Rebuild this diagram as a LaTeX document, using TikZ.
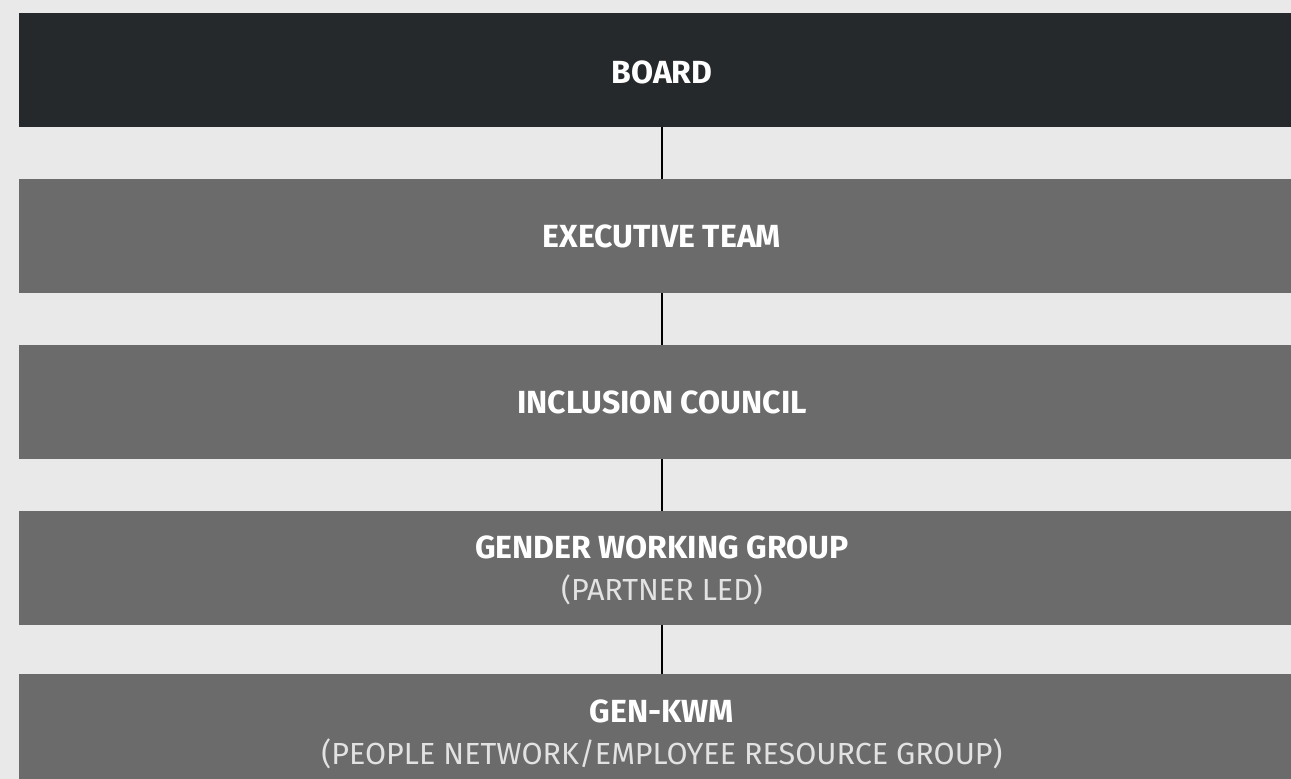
\documentclass[tikz,border=0pt]{standalone}
\usepackage{fontspec}
\setmainfont{Fira Sans}
\definecolor{pagebg}{HTML}{E9E9E9}
\definecolor{boarddark}{HTML}{26292C}
\definecolor{tiergray}{HTML}{6B6B6C}
\definecolor{softwhite}{HTML}{E2E2E2}
\begin{document}
\begin{tikzpicture}[x=1pt,y=-1pt,
  tierbox/.style={fill=tiergray, draw=none},
  headbox/.style={fill=boarddark, draw=none},
  title/.style={anchor=base, text=white, inner sep=0pt,
    font=\fontsize{32}{38}\selectfont\bfseries},
  subtitle/.style={anchor=base, text=softwhite, inner sep=0pt,
    font=\fontsize{30.5}{36}\selectfont},
  link/.style={draw=black, line width=2pt}]
  \useasboundingbox (0,0) rectangle (1291,779);
  \fill[pagebg] (0,0) rectangle (1291,779);
  % tier rectangles
  \path[headbox] (19,13) rectangle (1291,127);
  \path[tierbox] (19,179) rectangle (1291,293);
  \path[tierbox] (19,345) rectangle (1291,459);
  \path[tierbox] (19,511) rectangle (1291,625);
  \path[tierbox] (19,674) rectangle (1291,788);
  % anchor points for the connectors
  \coordinate (b1) at (662,127);
  \coordinate (e0) at (662,179);
  \coordinate (e1) at (662,293);
  \coordinate (i0) at (662,345);
  \coordinate (i1) at (662,459);
  \coordinate (g0) at (662,511);
  \coordinate (g1) at (662,625);
  \coordinate (k0) at (662,674);
  \draw[link] (b1) -- (e0);
  \draw[link] (e1) -- (i0);
  \draw[link] (i1) -- (g0);
  \draw[link] (g1) -- (k0);
  % labels
  \node[title] (tBoard) at (662,83) {BOARD};
  \node[title] (tExec) at (662,247) {EXECUTIVE TEAM};
  \node[title] (tIncl) at (662,413) {INCLUSION COUNCIL};
  \node[title] (tGend) at (662,558) {GENDER WORKING GROUP};
  \node[subtitle] (sGend) at (662,600) {(PARTNER LED)};
  \node[title] (tKwm) at (662,722) {GEN-KWM};
  \node[subtitle] (sKwm) at (662,764) {(PEOPLE NETWORK/EMPLOYEE RESOURCE GROUP)};
\end{tikzpicture}
\end{document}
